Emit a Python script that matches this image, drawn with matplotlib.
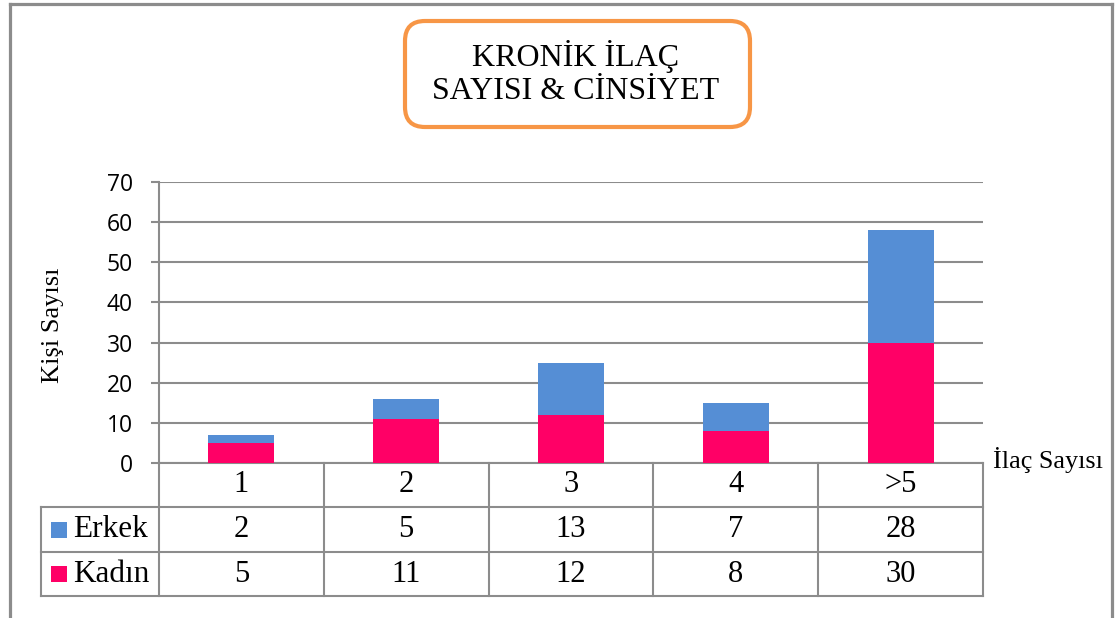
import matplotlib
matplotlib.use('Agg')
import matplotlib.pyplot as plt
from matplotlib.patches import FancyBboxPatch, Rectangle
from matplotlib.lines import Line2D
import matplotlib.transforms as mtransforms

# ---- data ----
categories = ['1', '2', '3', '4', '>5']
erkek = [2, 5, 13, 7, 28]
kadin = [5, 11, 12, 8, 30]
series_names = ['Erkek', 'Kadın']
yticks = [0, 10, 20, 30, 40, 50, 60, 70]
title = 'KRONİK İLAÇ\nSAYISI & CİNSİYET'
ylabel = 'Kişi Sayısı'
xlabel = 'İlaç Sayısı'

# ---- style ----
BLUE = '#558ED5'
PINK = '#FF0066'
GRAY = '#8c8c8c'
ORANGE = '#F79646'
SERIF = 'Liberation Serif'
SANS = 'Open Sans'

W, H = 1115, 618
fig = plt.figure(figsize=(W / 100, H / 100), dpi=100)
fig.patch.set_facecolor('white')


def fx(px):
    return px / W


def fy(py):
    return 1 - py / H


ax = fig.add_axes([fx(159), fy(463), (983 - 159) / W, (463 - 182) / H])
x = list(range(len(categories)))
ax.bar(x, kadin, 0.4, color=PINK, zorder=3, label=series_names[1])
ax.bar(x, erkek, 0.4, bottom=kadin, color=BLUE, zorder=3, label=series_names[0])
ax.set_xlim(-0.5, len(categories) - 0.5)
ax.set_ylim(0, 70)
ax.set_yticks(yticks)
ax.set_xticks([])
ax.yaxis.grid(True, color=GRAY, lw=1.5, zorder=0)
ax.set_axisbelow(True)
for s in ['top', 'right']:
    ax.spines[s].set_visible(False)
for s in ['left', 'bottom']:
    ax.spines[s].set_color(GRAY)
    ax.spines[s].set_linewidth(1.5)
ax.tick_params(axis='y', direction='out', length=5.8, width=1.5, color=GRAY,
               pad=13, labelsize=16.5)
for lab in ax.get_yticklabels():
    lab.set_fontfamily(SANS)

# ---- data table ----
trans = mtransforms.blended_transform_factory(ax.transData, fig.transFigure)
pos = ax.get_position()
lw_t = 1.5
# vertical lines at category boundaries
for i in range(len(categories) + 1):
    fig.add_artist(Line2D([i - 0.5, i - 0.5], [fy(463), fy(596)], transform=trans,
                          color=GRAY, lw=lw_t))
# row label cell left edge
fig.add_artist(Line2D([fx(41), fx(41)], [fy(507), fy(596)], transform=fig.transFigure,
                      color=GRAY, lw=lw_t))
for yy in [507, 552, 596]:
    fig.add_artist(Line2D([fx(41), pos.x1], [fy(yy), fy(yy)], transform=fig.transFigure,
                          color=GRAY, lw=lw_t))

row_y = [485, 529.5, 574]
TFS = 22
for i, c in enumerate(categories):
    ax.text(i, fy(row_y[0]), c, transform=trans, ha='center', va='center',
            fontsize=TFS, fontfamily=SERIF)
    ax.text(i, fy(row_y[1]), str(erkek[i]), transform=trans, ha='center', va='center',
            fontsize=TFS, fontfamily=SERIF)
    ax.text(i, fy(row_y[2]), str(kadin[i]), transform=trans, ha='center', va='center',
            fontsize=TFS, fontfamily=SERIF)

for name, col, yc in [(series_names[0], BLUE, row_y[1]), (series_names[1], PINK, row_y[2])]:
    fig.add_artist(Rectangle((fx(51), fy(yc + 8)), 16 / W, 16 / H,
                             transform=fig.transFigure, color=col, lw=0))
    fig.text(fx(73), fy(yc), name, ha='left', va='center', fontsize=TFS + 0.5,
             fontfamily=SERIF)

# ---- axis labels ----
fig.text(fx(53), fy(325), ylabel, rotation=90, ha='center', va='center',
         fontsize=19, fontfamily=SERIF)
fig.text(fx(993), fy(460), xlabel, ha='left', va='center',
         fontsize=18.8, fontfamily=SERIF)

# ---- title box ----
box = FancyBboxPatch((4.05, (H - 127) / 100), 3.45, 1.06,
                     boxstyle='round,pad=0,rounding_size=0.2',
                     transform=fig.dpi_scale_trans, facecolor='white',
                     edgecolor=ORANGE, lw=3)
fig.add_artist(box)
fig.text(fx(576), fy(73), title, ha='center', va='center', fontsize=23,
         fontfamily=SERIF, linespacing=1.22)

# ---- outer frame ----
for xs, ys in [([fx(9.5), fx(9.5)], [fy(4), -0.1]),
               ([fx(9.5), fx(1111.5)], [fy(4), fy(4)]),
               ([fx(1111.5), fx(1111.5)], [fy(4), -0.1])]:
    fig.add_artist(Line2D(xs, ys, transform=fig.transFigure, color=GRAY, lw=2.3))

fig.savefig('out.png', dpi=100)
